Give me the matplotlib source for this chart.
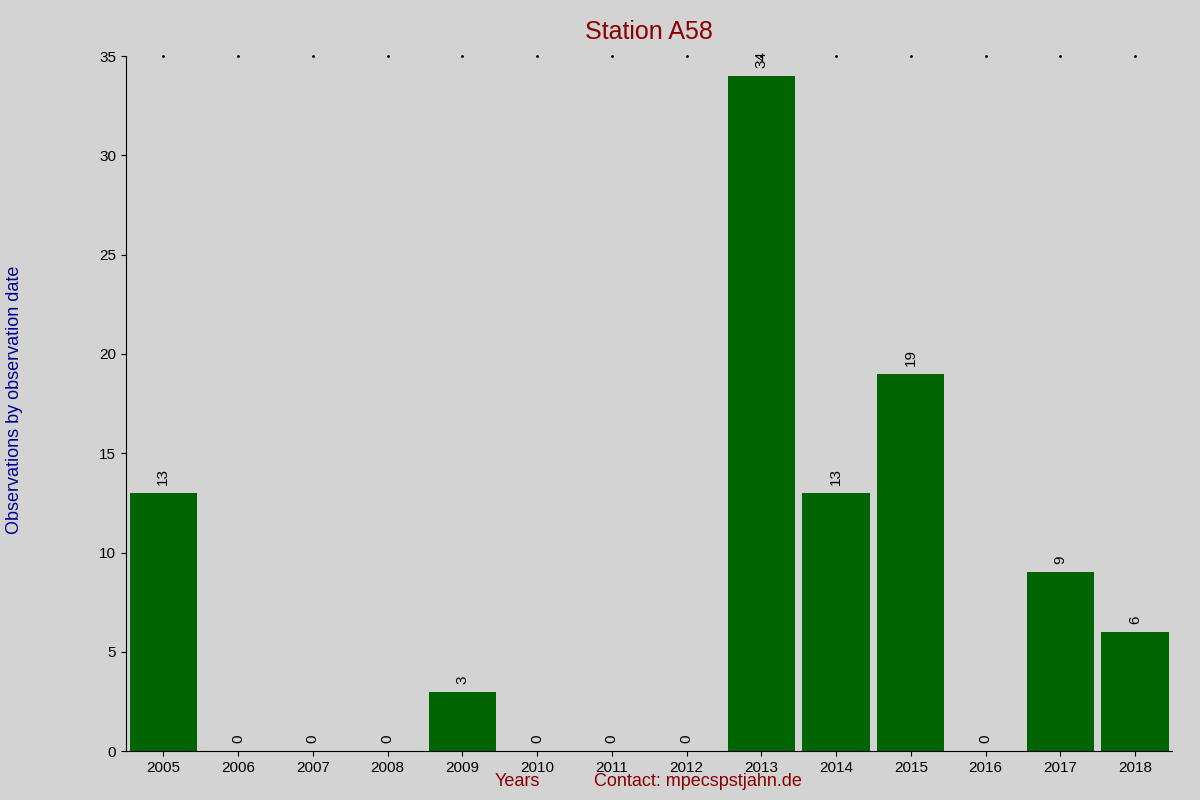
import matplotlib.pyplot as plt

plt.rcParams['font.family'] = ['Liberation Sans', 'DejaVu Sans']

years = ['2005', '2006', '2007', '2008', '2009', '2010', '2011',
         '2012', '2013', '2014', '2015', '2016', '2017', '2018']
counts = [13, 0, 0, 0, 3, 0, 0, 0, 34, 13, 19, 0, 9, 6]

bg = '#d3d3d3'
fig = plt.figure(figsize=(12, 8), dpi=100, facecolor=bg)
ax = fig.add_axes([0.105, 0.061, 0.872, 0.869], facecolor=bg)

x = range(len(years))
ax.bar(x, counts, width=0.9, color='#006400')
for i, v in zip(x, counts):
    ax.text(i, v + 0.4, str(v), rotation=90, ha='center', va='bottom', fontsize=11)

# little dots along the top edge
ax.scatter(list(x), [35] * len(years), s=1, color='black', clip_on=False)

ax.set_xlim(-0.5, len(years) - 0.5)
ax.set_ylim(0, 35)
ax.set_xticks(list(x))
ax.set_xticklabels(years)
ax.set_yticks(range(0, 36, 5))
ax.tick_params(labelsize=11)
for s in ['top', 'right']:
    ax.spines[s].set_visible(False)

ax.set_title('Station A58', color='#8b0000', fontsize=18, pad=12)
fig.text(0.012, 0.5, 'Observations by observation date', rotation=90,
         va='center', ha='center', color='#00008b', fontsize=13)
fig.text(0.431, 0.018, 'Years', color='#8b0000', fontsize=13, ha='center')
fig.text(0.582, 0.018, 'Contact: mpecspstjahn.de', color='#8b0000', fontsize=13, ha='center')

fig.savefig('out.png', facecolor=bg)
